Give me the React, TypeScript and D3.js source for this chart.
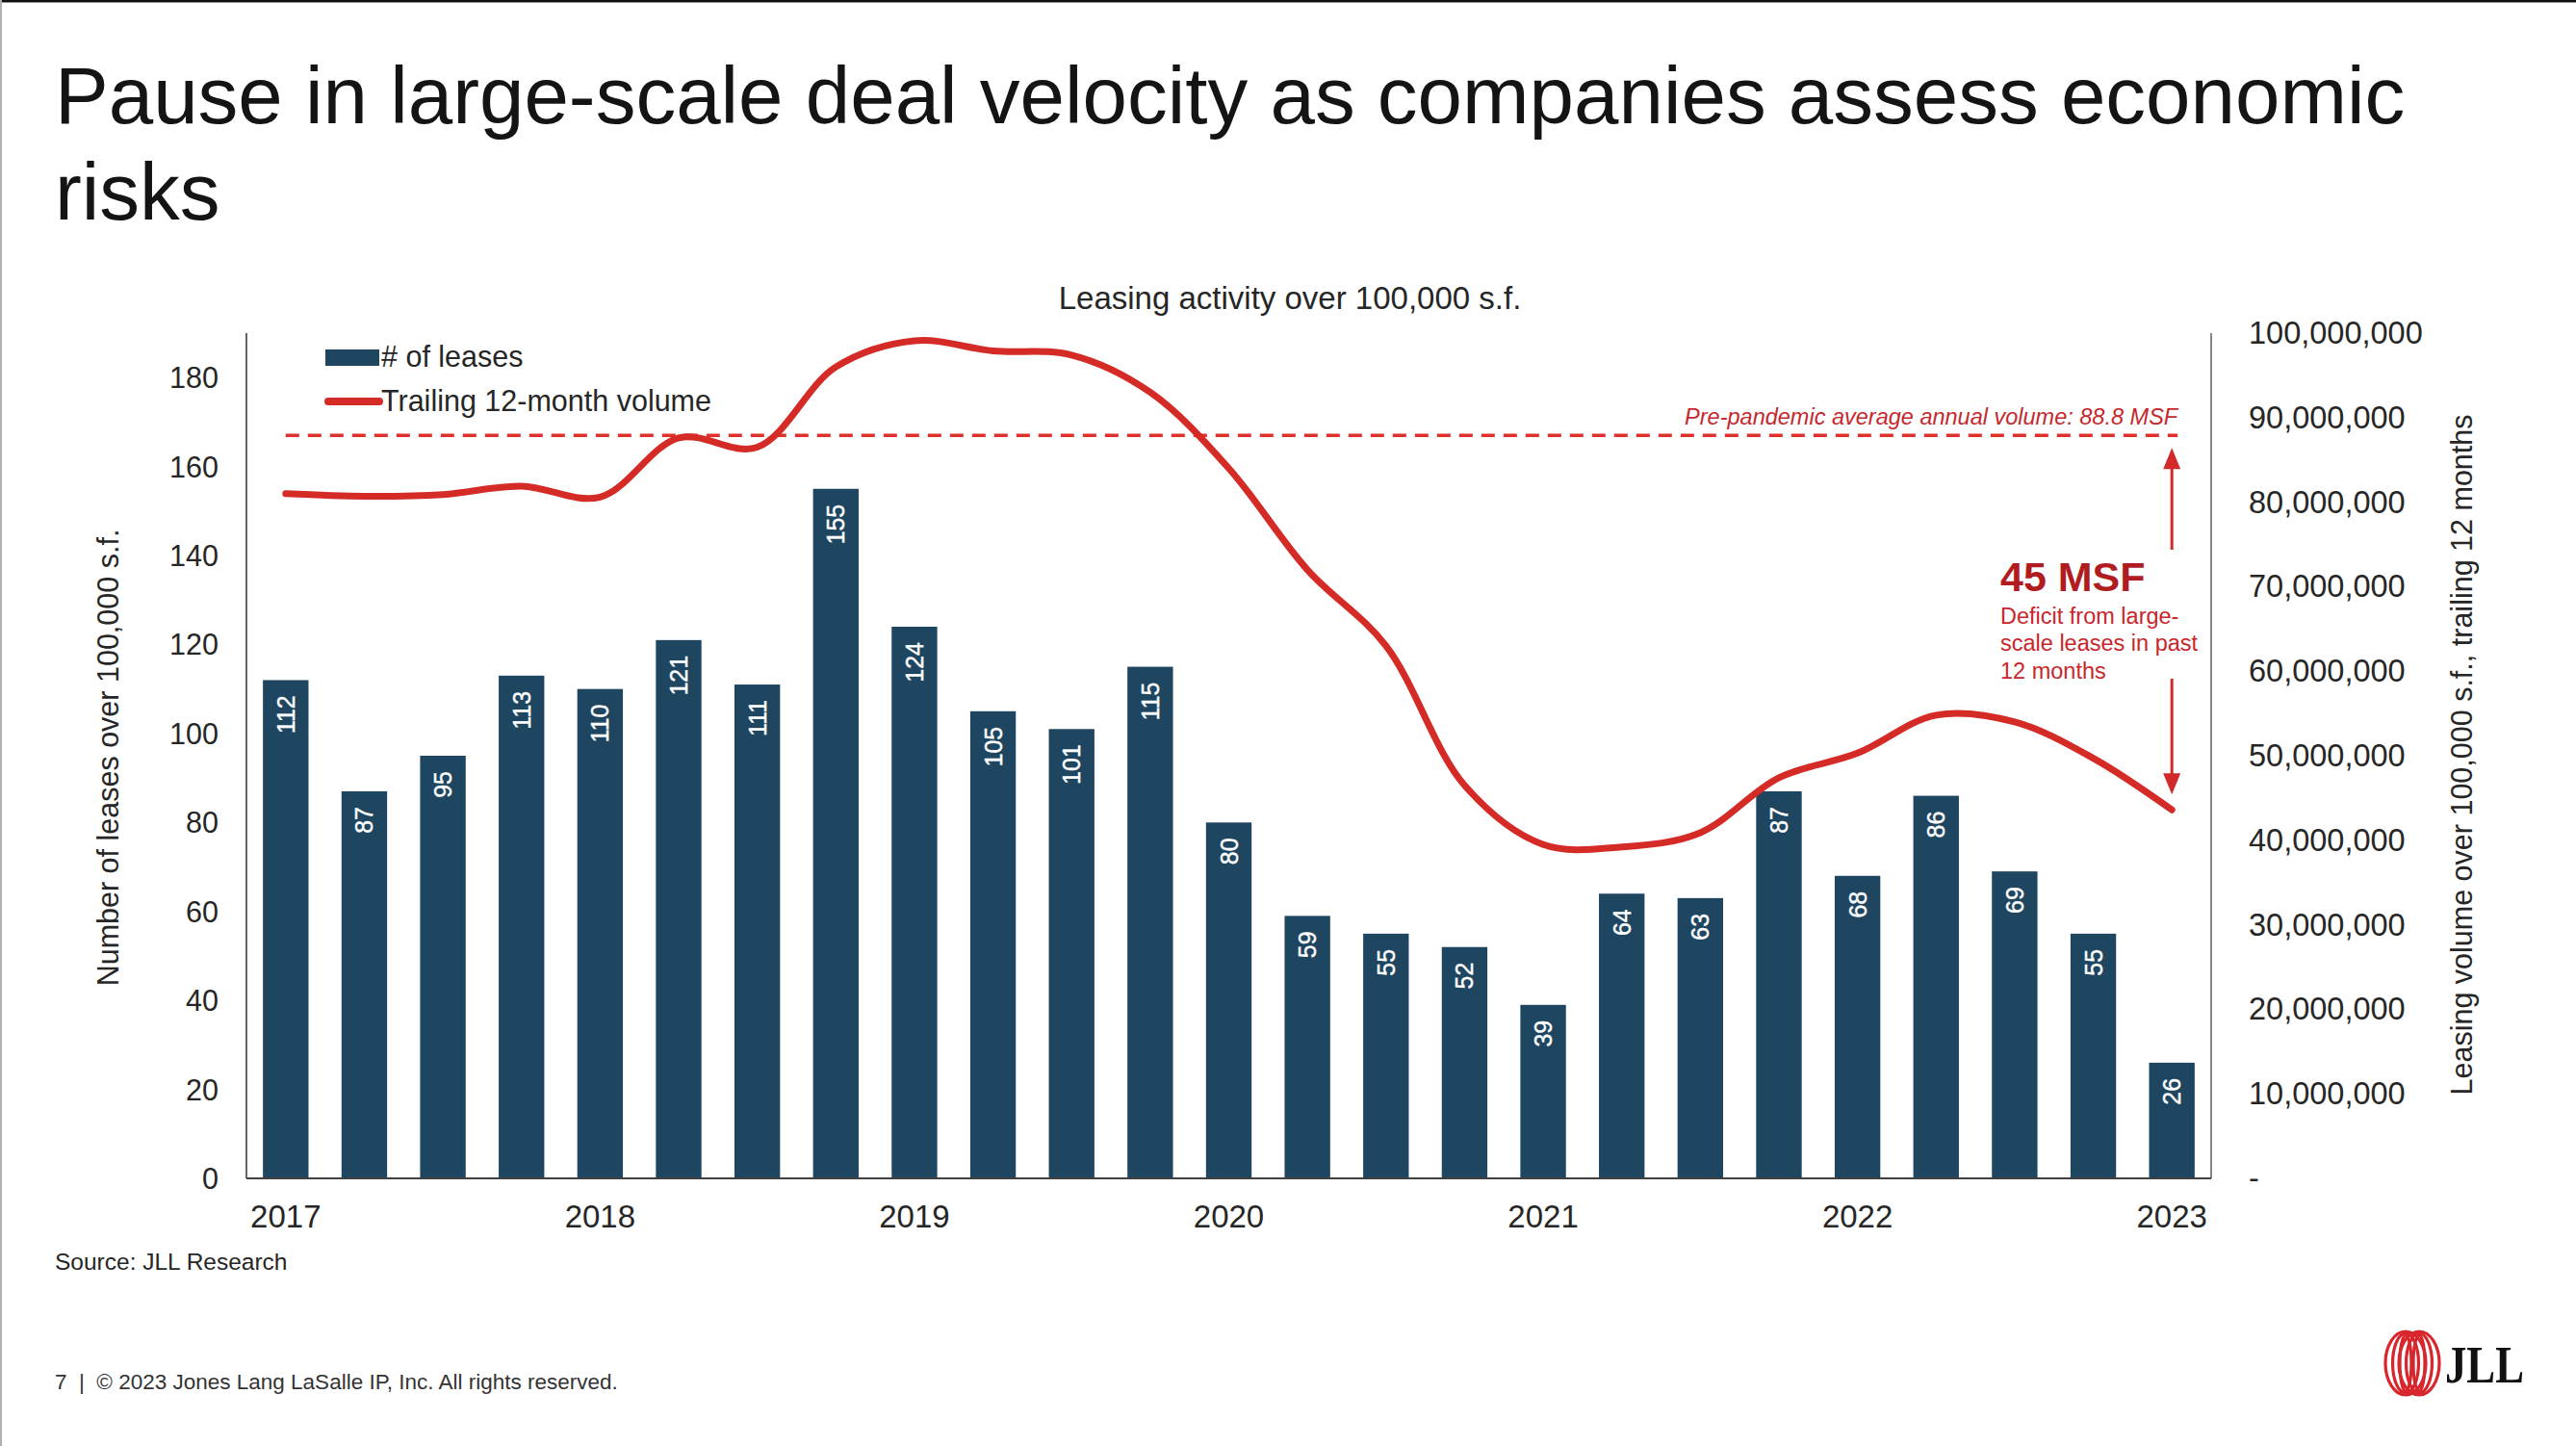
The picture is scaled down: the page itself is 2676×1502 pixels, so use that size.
import React, { useEffect } from "react";
import * as d3 from "d3";

// ---------------- Data ----------------
const quarters = [
  "2017 Q1", "2017 Q2", "2017 Q3", "2017 Q4",
  "2018 Q1", "2018 Q2", "2018 Q3", "2018 Q4",
  "2019 Q1", "2019 Q2", "2019 Q3", "2019 Q4",
  "2020 Q1", "2020 Q2", "2020 Q3", "2020 Q4",
  "2021 Q1", "2021 Q2", "2021 Q3", "2021 Q4",
  "2022 Q1", "2022 Q2", "2022 Q3", "2022 Q4",
  "2023 Q1",
];

const leaseCounts = [
  112, 87, 95, 113, 110, 121, 111, 155, 124, 105, 101, 115,
  80, 59, 55, 52, 39, 64, 63, 87, 68, 86, 69, 55, 26,
];

// Trailing 12-month leasing volume (s.f.)
const trailingVolume = [
  81.0e6, 80.7e6, 80.9e6, 81.9e6, 80.6e6, 87.6e6, 86.5e6, 96.0e6,
  99.1e6, 97.9e6, 97.4e6, 93.0e6, 84.0e6, 72.0e6, 63.0e6, 46.5e6,
  39.5e6, 39.2e6, 40.9e6, 47.4e6, 50.3e6, 54.8e6, 54.0e6, 49.7e6,
  43.6e6,
];

const yearTickQuarters = ["2017 Q1", "2018 Q1", "2019 Q1", "2020 Q1", "2021 Q1", "2022 Q1", "2023 Q1"];
const yearTickLabels = ["2017", "2018", "2019", "2020", "2021", "2022", "2023"];

const leftTicks = [0, 20, 40, 60, 80, 100, 120, 140, 160, 180];
const rightTicks = [0, 10e6, 20e6, 30e6, 40e6, 50e6, 60e6, 70e6, 80e6, 90e6, 100e6];

// Pre-pandemic reference line (position as drawn on the chart)
const refLineValue = 87.9e6;
const refLabel = "Pre-pandemic average annual volume: 88.8 MSF";

const titleLines = [
  "Pause in large-scale deal velocity as companies assess economic",
  "risks",
];
const chartTitle = "Leasing activity over 100,000 s.f.";
const leftAxisTitle = "Number of leases over 100,000 s.f.";
const rightAxisTitle = "Leasing volume over 100,000 s.f., trailing 12 months";
const legendLabels = ["# of leases", "Trailing 12-month volume"];
const deficitHeadline = "45 MSF";
const deficitLines = ["Deficit from large-", "scale leases in past", "12 months"];
const sourceText = "Source: JLL Research";
const footerText = "7  |  \u00A9 2023 Jones Lang LaSalle IP, Inc. All rights reserved.";

// ---------------- Styles ----------------
const W = 2676;
const H = 1502;
const FONT = "'Liberation Sans', Arial, Helvetica, sans-serif";
const BAR_COLOR = "#1f4661";
const LINE_COLOR = "#d52b27";
const TEXT_COLOR = "#262626";

const plot = { left: 256, right: 2297, top: 346, bottom: 1224 };

export default function App() {
  useEffect(() => {
    document.body.style.margin = "0";
    document.body.style.background = "#ffffff";
  }, []);

  const x = d3
    .scaleBand<string>()
    .domain(quarters)
    .range([plot.left, plot.right])
    .paddingInner(0.42)
    .paddingOuter(0.21);
  const bw = x.bandwidth();
  const cx = (q: string) => (x(q) as number) + bw / 2;

  const yL = d3.scaleLinear().domain([0, 190]).range([plot.bottom, plot.top]);
  const yR = d3.scaleLinear().domain([0, 100e6]).range([plot.bottom, plot.top]);

  const linePath = d3
    .line<number>()
    .x((_, i) => cx(quarters[i]))
    .y((d) => yR(d))
    .curve(d3.curveCatmullRom.alpha(0.5))(trailingVolume) as string;

  const fmtRight = (v: number) => (v === 0 ? "-" : d3.format(",")(v));

  const lastQ = quarters[quarters.length - 1];
  const arrowX = cx(lastQ);
  const refY = yR(refLineValue);
  const lastY = yR(trailingVolume[trailingVolume.length - 1]);
  const topTip = refY + 13;
  const topEnd = 571;
  const botStart = 705;
  const botTip = lastY - 16;
  const ah = 22; // arrowhead length
  const aw = 9; // arrowhead half-width

  return (
    <svg
      width={W}
      height={H}
      viewBox={`0 0 ${W} ${H}`}
      style={{ display: "block", position: "absolute", left: 0, top: 0, background: "#fff" }}
      fontFamily={FONT}
    >
      <rect x={0} y={0} width={W} height={H} fill="#ffffff" />
      {/* slide frame */}
      <line x1={0} x2={W} y1={1} y2={1} stroke="#111" strokeWidth={3} />
      <line x1={1} x2={1} y1={0} y2={H} stroke="#b0b0b0" strokeWidth={2} />

      {/* Title */}
      <text fill="#141414" fontSize={83.5}>
        {titleLines.map((t, i) => (
          <tspan key={i} x={57} y={128 + i * 100}>
            {t}
          </tspan>
        ))}
      </text>

      {/* Chart title */}
      <text x={1340} y={321} textAnchor="middle" fontSize={33} fill={TEXT_COLOR}>
        {chartTitle}
      </text>

      {/* Bars */}
      {leaseCounts.map((v, i) => (
        <rect
          key={quarters[i]}
          x={x(quarters[i])}
          y={yL(v)}
          width={bw}
          height={yL(0) - yL(v)}
          fill={BAR_COLOR}
        />
      ))}

      {/* Bar labels */}
      {leaseCounts.map((v, i) => {
        const px = cx(quarters[i]);
        const py = yL(v) + 16;
        return (
          <text
            key={"l" + i}
            transform={`translate(${px},${py}) rotate(-90)`}
            textAnchor="end"
            dominantBaseline="central"
            fontSize={25}
            fill="#ffffff"
            stroke="#ffffff"
            strokeWidth={0.4}
          >
            {v}
          </text>
        );
      })}

      {/* Axes lines */}
      <line x1={plot.left} x2={plot.left} y1={plot.top} y2={plot.bottom} stroke="#404040" strokeWidth={1.6} />
      <line x1={plot.right} x2={plot.right} y1={plot.top} y2={plot.bottom} stroke="#6a6a6a" strokeWidth={1.6} />
      <line x1={plot.left} x2={plot.right} y1={plot.bottom} y2={plot.bottom} stroke="#404040" strokeWidth={1.8} />

      {/* Left ticks */}
      {leftTicks.map((t) => (
        <text key={"lt" + t} x={227} y={yL(t)} textAnchor="end" dominantBaseline="central" fontSize={30.5} fill={TEXT_COLOR}>
          {t}
        </text>
      ))}
      {/* Right ticks */}
      {rightTicks.map((t) => (
        <text key={"rt" + t} x={2336} y={yR(t)} textAnchor="start" dominantBaseline="central" fontSize={32.5} fill={TEXT_COLOR}>
          {fmtRight(t)}
        </text>
      ))}
      {/* Year ticks */}
      {yearTickQuarters.map((q, i) => (
        <text key={"y" + q} x={cx(q)} y={1275} textAnchor="middle" fontSize={33} fill={TEXT_COLOR}>
          {yearTickLabels[i]}
        </text>
      ))}

      {/* Axis titles */}
      <text
        transform={`translate(112,787) rotate(-90)`}
        textAnchor="middle"
        dominantBaseline="central"
        fontSize={30.5}
        fill={TEXT_COLOR}
      >
        {leftAxisTitle}
      </text>
      <text
        transform={`translate(2557,784) rotate(-90)`}
        textAnchor="middle"
        dominantBaseline="central"
        fontSize={30.5}
        fill={TEXT_COLOR}
      >
        {rightAxisTitle}
      </text>

      {/* Reference dashed line */}
      <line
        x1={cx(quarters[0])}
        x2={arrowX + 6}
        y1={refY}
        y2={refY}
        stroke="#e0302b"
        strokeWidth={3.5}
        strokeDasharray="14 9"
      />
      <text x={arrowX + 6} y={441} textAnchor="end" fontStyle="italic" fontSize={23.5} fill="#c5282d">
        {refLabel}
      </text>

      {/* Trailing volume line */}
      <path d={linePath} fill="none" stroke={LINE_COLOR} strokeWidth={7} strokeLinejoin="round" strokeLinecap="round" />

      {/* Deficit arrows */}
      <line x1={arrowX} x2={arrowX} y1={topTip + ah - 2} y2={topEnd} stroke="#d02a2a" strokeWidth={3} />
      <path d={`M${arrowX},${topTip} L${arrowX - aw},${topTip + ah} L${arrowX + aw},${topTip + ah} Z`} fill="#d02a2a" />
      <line x1={arrowX} x2={arrowX} y1={botStart} y2={botTip - ah + 2} stroke="#d02a2a" strokeWidth={3} />
      <path d={`M${arrowX},${botTip} L${arrowX - aw},${botTip - ah} L${arrowX + aw},${botTip - ah} Z`} fill="#d02a2a" />

      {/* Deficit annotation */}
      <text x={2078} y={614} fontSize={43} fontWeight="bold" fill="#b01c1f">
        {deficitHeadline}
      </text>
      <text fontSize={23.5} fill="#c8262c">
        {deficitLines.map((t, i) => (
          <tspan key={i} x={2078} y={648 + i * 28.3}>
            {t}
          </tspan>
        ))}
      </text>

      {/* Legend */}
      <rect x={338} y={363} width={56} height={17} fill={BAR_COLOR} />
      <text x={396} y={381} fontSize={30.5} fill={TEXT_COLOR}>
        {legendLabels[0]}
      </text>
      <line x1={341} x2={394} y1={417} y2={417} stroke={LINE_COLOR} strokeWidth={8} strokeLinecap="round" />
      <text x={396} y={427} fontSize={30.5} fill={TEXT_COLOR}>
        {legendLabels[1]}
      </text>

      {/* Source & footer */}
      <text x={57} y={1319} fontSize={24.5} fill={TEXT_COLOR}>
        {sourceText}
      </text>
      <text x={57} y={1443} fontSize={22.5} fill="#333" style={{ whiteSpace: "pre" }}>
        {footerText}
      </text>

      {/* JLL logo */}
      <g fill="none" stroke="#d9262c" strokeWidth={3.2}>
        {[-7, 7].map((dx) =>
          [
            [21, 33],
            [13.5, 31],
            [6, 29],
          ].map(([rx, ry], k) => (
            <ellipse key={dx + "-" + k} cx={2506 + dx} cy={1416} rx={rx} ry={ry} />
          ))
        )}
      </g>
      <text
        x={2540}
        y={1436}
        fontFamily="'Liberation Serif', 'DejaVu Serif', serif"
        fontWeight="bold"
        fontSize={55}
        fill="#111"
        textLength={82}
        lengthAdjust="spacingAndGlyphs"
      >
        JLL
      </text>
    </svg>
  );
}
